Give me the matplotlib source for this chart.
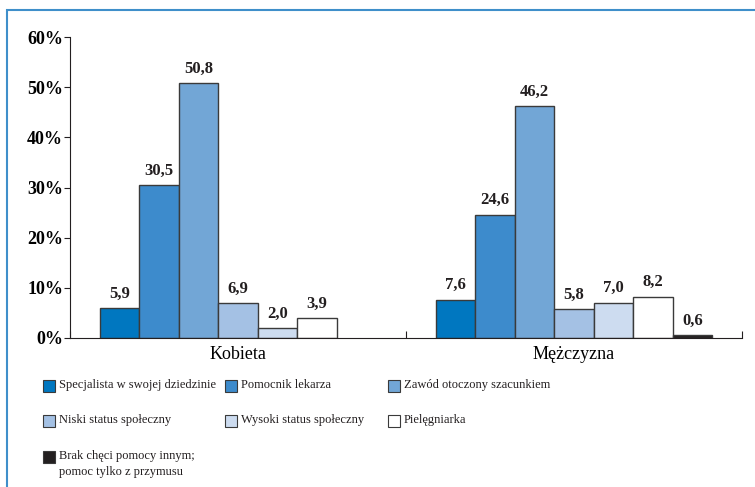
import numpy as np
import matplotlib.pyplot as plt
from matplotlib.patches import Rectangle

plt.rcParams['font.family'] = ['Liberation Serif', 'DejaVu Serif']

categories = ['Kobieta', 'Mężczyzna']
series = ['Specjalista w swojej dziedzinie', 'Pomocnik lekarza', 'Zawód otoczony szacunkiem',
          'Niski status społeczny', 'Wysoki status społeczny', 'Pielęgniarka',
          'Brak chęci pomocy innym;\npomoc tylko z przymusu']
kobieta = [5.9, 30.5, 50.8, 6.9, 2.0, 3.9, 0.0]
mezczyzna = [7.6, 24.6, 46.2, 5.8, 7.0, 8.2, 0.6]
colors = ['#0077c0', '#3d8bcc', '#72a6d6', '#a4c1e4', '#cddcf0', '#ffffff', '#231f20']

values = np.array([kobieta, mezczyzna])

fig = plt.figure(figsize=(7.55, 4.87), dpi=100)
ax = fig.add_axes([70 / 755, 1 - 338 / 487, 672 / 755, 301 / 487])

x = np.arange(len(categories))
w = 0.1176
for i, name in enumerate(series):
    pos = x + (i - 3) * w
    vals = values[:, i]
    lws = [1.0 if v > 0 else 0 for v in vals]
    ax.bar(pos, vals, width=w, color=colors[i], edgecolor='#3a3a3a', linewidth=lws)
    for p, v in zip(pos, vals):
        if v > 0:
            ax.text(p, v + 1.3, f'{v:.1f}'.replace('.', ','), ha='center', va='bottom',
                    fontsize=12, fontweight='bold', color='#231f20')

ax.set_xlim(-0.5, 1.5)
ax.set_ylim(0, 60)
ax.set_yticks(np.arange(0, 61, 10))
ax.set_yticklabels([f'{t}%' for t in range(0, 61, 10)], fontsize=13, fontweight='bold')
ax.set_xticks([-0.5, 0.5, 1.5])
ax.set_xticklabels([])
ax.set_xticks(x, minor=True)
ax.set_xticklabels(categories, minor=True, fontsize=13)
ax.tick_params(axis='x', which='minor', length=0, pad=6)
ax.tick_params(axis='x', which='major', direction='in', length=5, color='#231f20')
ax.tick_params(axis='y', direction='out', length=4, color='#231f20', pad=1)
for s in ['top', 'right']:
    ax.spines[s].set_visible(False)
for s in ['left', 'bottom']:
    ax.spines[s].set_color('#231f20')

# legend laid out by hand, three columns
col_x = [43, 225, 388]
row_y = [386, 421, 457]
for i, name in enumerate(series):
    cx = col_x[i % 3]
    cy = row_y[i // 3]
    fig.patches.append(Rectangle((cx / 755, 1 - (cy + 6) / 487), 12 / 755, 12 / 487,
                                 transform=fig.transFigure, facecolor=colors[i],
                                 edgecolor='#3a3a3a', linewidth=0.8))
    fig.text((cx + 16) / 755, 1 - (cy - 7) / 487, name, ha='left', va='top',
             fontsize=9, linespacing=1.4, color='#231f20')

# outer frame
fig.patches.append(Rectangle((7 / 755, -0.05), 1.0, 1 - 10 / 487 + 0.05,
                             transform=fig.transFigure, fill=False,
                             edgecolor='#3f8fca', linewidth=1.5))

fig.savefig('out.png', dpi=100)
